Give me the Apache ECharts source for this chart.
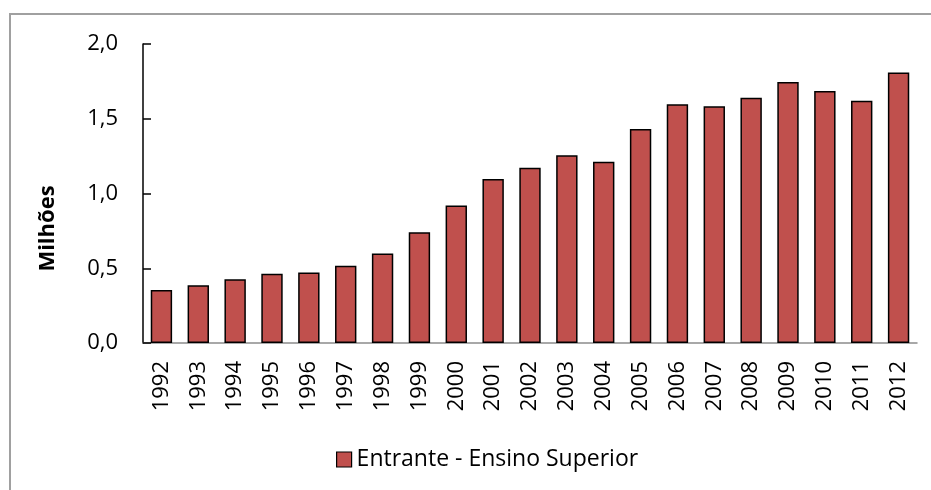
<!DOCTYPE html>
<html><head><meta charset="utf-8">
<script src="https://cdn.jsdelivr.net/npm/echarts@6/dist/echarts.min.js"></script>
<style>html,body{margin:0;padding:0;background:#fff}#c{width:931px;height:490px}</style>
</head><body><div id="c"></div>
<script>
const categories = ['1992','1993','1994','1995','1996','1997','1998','1999','2000','2001','2002','2003','2004','2005','2006','2007','2008','2009','2010','2011','2012'];
const entrantes = [0.354,0.387,0.427,0.463,0.472,0.516,0.599,0.741,0.919,1.097,1.173,1.256,1.213,1.431,1.597,1.583,1.641,1.745,1.685,1.621,1.810];
const seriesName = 'Entrante - Ensino Superior';
const yAxisName = 'Milhões';

const chart = echarts.init(document.getElementById('c'), null, {renderer:'canvas'});
chart.setOption({
  animation:false,
  backgroundColor:'#fff',
  graphic:[{type:'rect',shape:{x:10,y:14,width:940,height:500},style:{fill:'none',stroke:'#a0a0a0',lineWidth:2},z:-1}],
  grid:{left:143,right:14,top:44,bottom:147,containLabel:false},
  legend:{data:[seriesName],left:331,top:443,icon:'rect',itemWidth:15,itemHeight:15,itemGap:7,
    textStyle:{fontFamily:'Open Sans',fontSize:23,color:'#000'},
    itemStyle:{borderColor:'#000',borderWidth:1.2}},
  xAxis:{type:'category',data:categories,
    axisLine:{lineStyle:{color:'#8c8c8c',width:1.5}},
    axisTick:{show:false},
    axisLabel:{rotate:90,margin:18,fontFamily:'Open Sans',fontSize:22,color:'#000'}},
  yAxis:{type:'value',min:0,max:2,interval:0.5,
    name:yAxisName,nameLocation:'middle',nameGap:84,nameRotate:90,
    nameTextStyle:{fontFamily:'Open Sans',fontWeight:'bold',fontSize:22,color:'#000',padding:[0,70,0,0]},
    axisLine:{show:true,lineStyle:{color:'#000',width:1.5}},
    axisTick:{show:true,inside:true,length:8,lineStyle:{color:'#000',width:1.5}},
    splitLine:{show:false},
    axisLabel:{margin:25,fontFamily:'Open Sans',fontSize:22,color:'#000',
      formatter:v=>v.toFixed(1).replace('.',',')}},
  series:[{name:seriesName,type:'bar',data:entrantes,barCategoryGap:'42%',
    itemStyle:{color:'#C0504D',borderColor:'#000',borderWidth:1.5}}]
});
</script></body></html>
